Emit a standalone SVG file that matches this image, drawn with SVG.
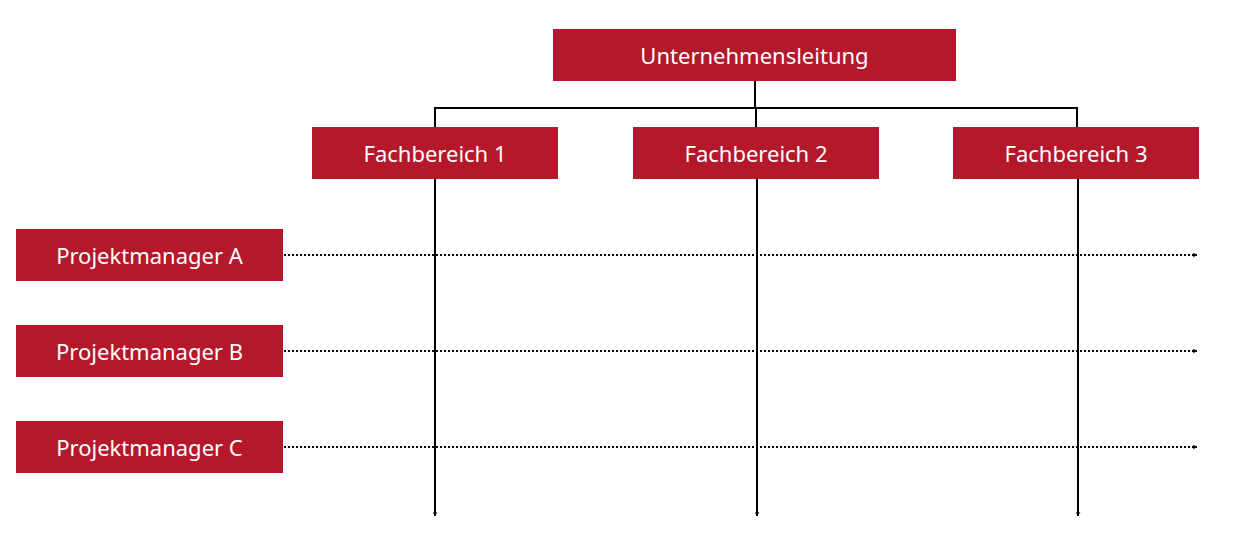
<svg xmlns="http://www.w3.org/2000/svg" width="1260" height="533" viewBox="0 0 1260 533">
<style>
.box{fill:#b5172b}
.t{font-family:"Noto Sans","Open Sans",sans-serif;font-size:22px;fill:#fff;text-anchor:middle;dominant-baseline:central}
.solid{stroke:#000;stroke-width:2;fill:none}
.dot{stroke:#000;stroke-width:2;stroke-dasharray:2 2;fill:none}
</style>
<defs>
<marker id="ah" viewBox="0 0 10 10" refX="9" refY="5" markerWidth="5" markerHeight="5" orient="auto" markerUnits="userSpaceOnUse"><path d="M1,0 L9,5 L1,10 L3,5 Z" fill="#000"/></marker>
</defs>
<g id="connectors">
<path class="solid" d="M755,81 V108 M435,127 V108 H1077 V127 M756,108 V127"/>
<path class="solid" d="M435,179 V516" marker-end="url(#ah)"/>
<path class="solid" d="M757,179 V516" marker-end="url(#ah)"/>
<path class="solid" d="M1078,179 V516" marker-end="url(#ah)"/>
<path class="dot" d="M284,255 H1197" marker-end="url(#ah)"/>
<path class="dot" d="M284,351 H1197" marker-end="url(#ah)"/>
<path class="dot" d="M284,447 H1197" marker-end="url(#ah)"/>
</g>
<g id="ul"><rect class="box" x="553" y="29" width="403" height="52"/><text class="t" x="754.5" y="55">Unternehmensleitung</text></g>
<g id="fb1"><rect class="box" x="312" y="127" width="246" height="52"/><text class="t" x="435" y="153">Fachbereich 1</text></g>
<g id="fb2"><rect class="box" x="633" y="127" width="246" height="52"/><text class="t" x="756" y="153">Fachbereich 2</text></g>
<g id="fb3"><rect class="box" x="953" y="127" width="246" height="52"/><text class="t" x="1076" y="153">Fachbereich 3</text></g>
<g id="pma"><rect class="box" x="16" y="229" width="267" height="52"/><text class="t" x="149.5" y="255">Projektmanager A</text></g>
<g id="pmb"><rect class="box" x="16" y="325" width="267" height="52"/><text class="t" x="149.5" y="351">Projektmanager B</text></g>
<g id="pmc"><rect class="box" x="16" y="421" width="267" height="52"/><text class="t" x="149.5" y="447">Projektmanager C</text></g>
</svg>
